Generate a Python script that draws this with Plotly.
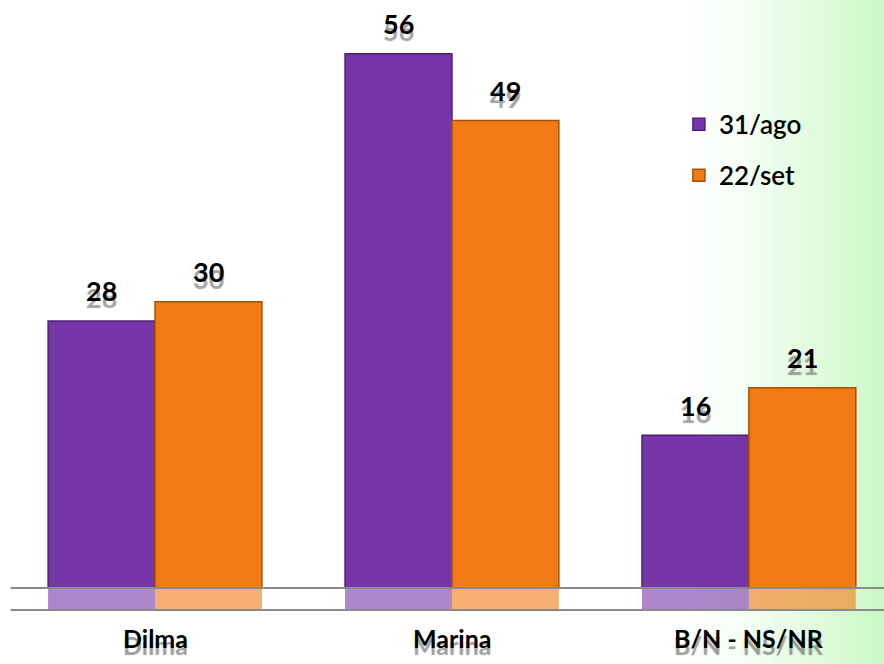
import plotly.graph_objects as go

# Survey results by candidate, two waves
categories = ["Dilma", "Marina", "B/N - NS/NR"]
series_names = ["31/ago", "22/set"]
values_ago = [28, 56, 16]
values_set = [30, 49, 21]

colors = ["#7636a9", "#f27a12"]
edge_colors = ["#4e1f78", "#a84f06"]
reflect_depth = 2.3
x_idx = list(range(len(categories)))
offset = 0.18

fig = go.Figure()

# Faded mirror images of the bars beneath the baseline
for name, col, grp in zip(series_names, colors, ["a", "b"]):
    fig.add_trace(go.Bar(
        x=x_idx, y=[-reflect_depth] * len(categories), offsetgroup=grp,
        marker=dict(color=col, opacity=0.6, line=dict(width=0)),
        showlegend=False, hoverinfo="skip"))

for name, vals, col, edge, grp in zip(series_names, [values_ago, values_set],
                                       colors, edge_colors, ["a", "b"]):
    fig.add_trace(go.Bar(
        x=x_idx, y=vals, name=name, offsetgroup=grp, legendgroup=name,
        marker=dict(color=col, line=dict(color=edge, width=1.5))))

font_family = "Lato, 'Open Sans', sans-serif"
annotations = []
for vals, shift in [(values_ago, -offset), (values_set, offset)]:
    for i, v in enumerate(vals):
        annotations.append(dict(
            x=i + shift, y=v, xref="x", yref="y", text=f"<b>{v}</b>",
            showarrow=False, yshift=30,
            font=dict(family=font_family, size=27, color="black",
                      weight=900,
                      shadow="0px 7px 1px rgba(100,100,100,0.6)")))

for i, c in enumerate(categories):
    annotations.append(dict(
        x=i, y=-5.25, xref="x", yref="y", text=f"<b>{c}</b>",
        showarrow=False,
        font=dict(family=font_family, size=25, color="black", weight=900,
                  shadow="0px 7px 1px rgba(90,90,90,0.6)")))

shapes = []
# soft green wash on the right side
n_steps = 40
x_start, x_end = 0.78, 1.0
for k in range(n_steps):
    t = ((k + 1) / n_steps) ** 1.3
    r = int(255 - (255 - 204) * t)
    g = int(255 - (255 - 249) * t)
    b = int(255 - (255 - 198) * t)
    shapes.append(dict(
        type="rect", xref="paper", yref="paper",
        x0=x_start + (x_end - x_start) * k / n_steps,
        x1=x_start + (x_end - x_start) * (k + 1) / n_steps + 0.002,
        y0=0, y1=1, fillcolor=f"rgb({r},{g},{b})", line=dict(width=0),
        layer="below"))
for yv in [0, -reflect_depth]:
    shapes.append(dict(
        type="line", xref="paper", yref="y", x0=0.012, x1=1, y0=yv, y1=yv,
        line=dict(color="#8a8a8a", width=2), layer="above"))

fig.update_layout(
    width=884, height=664,
    margin=dict(l=0, r=0, t=0, b=0),
    paper_bgcolor="white", plot_bgcolor="rgba(0,0,0,0)",
    barmode="group", bargap=0.28, bargroupgap=0,
    xaxis=dict(range=[-0.522, 2.455], visible=False, fixedrange=True),
    yaxis=dict(range=[-7.97, 61.64], visible=False, fixedrange=True),
    showlegend=True,
    legend=dict(x=0.768, y=0.848, xanchor="left", yanchor="top",
                bgcolor="rgba(0,0,0,0)", tracegroupgap=14,
                font=dict(family=font_family, size=26, color="black",
                          weight=600),
                itemwidth=30),
    annotations=annotations, shapes=shapes,
)

fig.write_html("out.html")
